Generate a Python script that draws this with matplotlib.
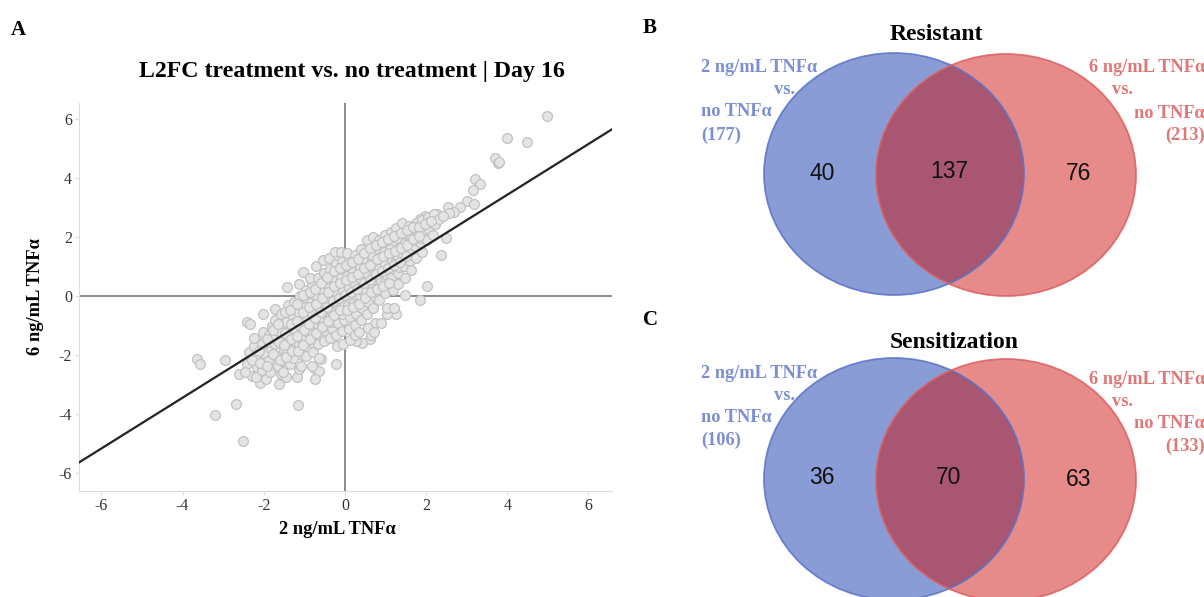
import matplotlib.pyplot as plt
from matplotlib.patches import Ellipse

plt.rcParams['font.family'] = ['Liberation Serif', 'DejaVu Serif']
plt.rcParams['axes.unicode_minus'] = False

# scatter: log2 fold change, 2 ng/mL (x) vs 6 ng/mL (y)
outliers = [
    (4.98, 6.12), (3.99, 5.37), (4.48, 5.22), (3.69, 4.67), (3.76, 4.52), (3.80, 4.55),
    (3.21, 3.98), (3.32, 3.79), (3.15, 3.59), (3.02, 3.23), (3.17, 3.11), (2.83, 3.03),
    (2.55, 3.03), (2.68, 2.86), (2.56, 2.82), (2.27, 2.78), (1.98, 2.71), (1.86, 2.63),
    (1.70, 2.37), (2.23, 2.46), (2.36, 1.41), (2.48, 1.98), (2.02, 0.34), (1.84, -0.11),
    (1.47, 0.03), (1.27, -0.61), (1.03, -0.61), (0.75, -0.89), (0.62, -1.46), (0.42, -1.58),
    (0.28, -1.51), (0.65, -1.32),
    (-3.64, -2.14), (-3.57, -2.29), (-2.95, -2.16), (-2.42, -0.87), (-2.61, -2.62),
    (-2.30, -2.71), (-2.10, -2.93), (-1.63, -2.99), (-1.57, -2.62), (-1.44, -2.73),
    (-1.19, -2.75), (-1.14, -2.47), (-0.75, -2.42), (-0.65, -2.52), (-0.73, -2.79),
    (-0.21, -2.31), (-0.60, -2.11), (-2.69, -3.66), (-3.20, -4.03), (-1.16, -3.69),
    (-2.51, -4.90), (-2.17, -1.55), (-2.02, -0.61),
]
core = [
    (-2.42, -2.31), (-2.36, -1.88), (-2.45, -2.58), (-2.33, -0.93),
    (-2.21, -2.02), (-2.17, -2.41), (-2.25, -1.69), (-2.19, -2.72), (-2.23, -1.42),
    (-2.03, -1.61), (-1.97, -2.12), (-2.05, -2.49), (-1.99, -1.91), (-2.01, -1.22), (-1.95, -2.81),
    (-1.86, -1.31), (-1.82, -1.79), (-1.89, -2.21), (-1.84, -2.58), (-1.80, -1.02), (-1.88, -1.56),
    (-1.71, -0.79), (-1.67, -1.21), (-1.73, -1.62), (-1.69, -2.01), (-1.66, -2.38), (-1.74, -1.41),
    (-1.72, -0.42), (-1.57, -0.61), (-1.53, -1.02), (-1.58, -1.39), (-1.51, -1.81), (-1.56, -2.19),
    (-1.52, -2.57), (-1.59, -1.18), (-1.41, -0.31), (-1.37, -0.72), (-1.43, -1.09), (-1.39, -1.52),
    (-1.42, -1.91), (-1.36, -2.28), (-1.44, -0.88), (-1.38, -1.31), (-1.42, 0.32),
    (-1.26, -0.19), (-1.22, -0.52), (-1.28, -0.91), (-1.24, -1.29), (-1.21, -1.71), (-1.27, -2.09),
    (-1.23, -1.12), (-1.29, -0.68), (-1.25, -1.52),
    (-1.11, 0.02), (-1.07, -0.41), (-1.13, -0.79), (-1.09, -1.22), (-1.12, -1.61), (-1.06, -1.98),
    (-1.14, -0.58), (-1.08, -1.01), (-1.10, -1.41), (-1.12, 0.41), (-1.09, -2.38),
    (-0.96, 0.21), (-0.92, -0.19), (-0.98, -0.62), (-0.94, -0.99), (-0.97, -1.41), (-0.91, -1.79),
    (-0.99, -0.38), (-0.93, -0.81), (-0.95, -1.19), (-1.02, 0.82), (-0.96, -2.02),
    (-0.81, 0.41), (-0.78, 0.02), (-0.83, -0.41), (-0.79, -0.79), (-0.82, -1.21), (-0.77, -1.62),
    (-0.84, -0.22), (-0.80, -0.58), (-0.76, -1.01), (-0.85, 0.62), (-0.79, -1.88), (-0.82, -2.37),
    (-0.66, 0.61), (-0.63, 0.19), (-0.68, -0.21), (-0.64, -0.62), (-0.67, -0.98), (-0.62, -1.41),
    (-0.69, 0.02), (-0.65, -0.39), (-0.61, -0.81), (-0.70, 1.01), (-0.66, -1.62), (-0.63, -2.08),
    (-0.51, 0.79), (-0.48, 0.41), (-0.53, 0.02), (-0.49, -0.41), (-0.52, -0.79), (-0.47, -1.19),
    (-0.54, 0.21), (-0.50, -0.19), (-0.46, -0.61), (-0.55, 1.22), (-0.51, -1.52), (-0.49, -1.01),
    (-0.36, 0.91), (-0.33, 0.52), (-0.38, 0.09), (-0.34, -0.31), (-0.37, -0.69), (-0.32, -1.09),
    (-0.39, 0.29), (-0.35, -0.12), (-0.31, -0.52), (-0.40, 1.31), (-0.36, -1.41), (-0.34, -0.88),
    (-0.21, 1.09), (-0.18, 0.71), (-0.23, 0.29), (-0.19, -0.11), (-0.22, -0.49), (-0.17, -0.91),
    (-0.24, 0.52), (-0.20, 0.11), (-0.16, -0.29), (-0.25, 1.49), (-0.21, -1.31), (-0.19, -1.69),
    (-0.06, 1.21), (-0.03, 0.79), (-0.08, 0.41), (-0.04, 0.02), (-0.07, -0.41), (-0.02, -0.79),
    (-0.09, 0.61), (-0.05, 0.19), (-0.01, -0.21), (-0.10, 1.51), (-0.06, -1.19), (-0.04, -1.61),
    (-0.08, -0.59),
    (0.09, 1.31), (0.12, 0.91), (0.07, 0.49), (0.11, 0.11), (0.08, -0.31), (0.13, -0.69),
    (0.06, 0.69), (0.10, 0.29), (0.14, -0.09), (0.05, 1.46), (0.09, -1.11), (0.12, -1.49),
    (0.24, 1.41), (0.27, 0.99), (0.22, 0.61), (0.26, 0.19), (0.23, -0.21), (0.28, -0.59),
    (0.21, 0.81), (0.25, 0.41), (0.29, 0.02), (0.24, -0.98), (0.26, -1.31),
    (0.39, 1.61), (0.42, 1.19), (0.37, 0.81), (0.41, 0.39), (0.38, 0.02), (0.43, -0.39),
    (0.36, 1.01), (0.40, 0.59), (0.44, 0.19), (0.39, -0.79), (0.35, -1.21),
    (0.54, 1.89), (0.57, 1.41), (0.52, 0.99), (0.56, 0.61), (0.53, 0.19), (0.58, -0.21),
    (0.51, 1.21), (0.55, 0.79), (0.59, 0.41), (0.54, -0.61), (0.57, -1.09),
    (0.69, 2.01), (0.72, 1.59), (0.67, 1.21), (0.71, 0.79), (0.68, 0.41), (0.73, 0.02),
    (0.66, 1.41), (0.70, 0.99), (0.74, 0.59), (0.69, -0.39), (0.72, -1.21),
    (0.84, 1.91), (0.87, 1.49), (0.82, 1.11), (0.86, 0.69), (0.83, 0.29), (0.81, 1.29),
    (0.85, 0.91), (0.89, 0.49), (0.84, -0.11), (0.88, -0.89),
    (0.99, 2.09), (1.02, 1.71), (0.97, 1.29), (1.01, 0.91), (0.98, 0.49), (0.96, 1.51),
    (1.00, 1.11), (1.04, 0.71), (0.99, 0.11), (1.03, -0.41),
    (1.14, 2.19), (1.17, 1.79), (1.12, 1.41), (1.16, 1.01), (1.13, 0.61), (1.11, 1.59),
    (1.15, 1.21), (1.19, 0.21), (1.21, -0.39),
    (1.29, 1.99), (1.32, 1.61), (1.27, 1.21), (1.31, 0.79), (1.28, 1.41), (1.33, 0.99),
    (1.30, 0.41), (1.26, 2.31),
    (1.44, 2.21), (1.47, 1.79), (1.42, 1.41), (1.46, 1.01), (1.43, 1.61), (1.48, 0.61),
    (1.41, 2.49),
    (1.59, 2.39), (1.62, 1.99), (1.57, 1.61), (1.61, 1.19), (1.58, 1.81), (1.63, 0.89),
    (1.74, 2.49), (1.77, 2.09), (1.72, 1.69), (1.76, 1.29), (1.73, 1.89),
    (1.89, 2.59), (1.92, 2.19), (1.87, 1.79), (1.91, 1.49), (1.88, 1.99),
    (2.04, 2.69), (2.07, 2.29), (2.02, 1.89), (2.06, 2.51),
    (2.19, 2.79), (2.22, 2.44), (2.17, 2.09), (2.33, 2.61), (2.41, 2.71),
]
core_fill = [
    (-2.30, -2.15), (-2.12, -1.85), (-2.08, -2.25), (-1.93, -1.45), (-1.91, -2.38),
    (-1.78, -1.95), (-1.76, -1.15), (-1.62, -1.55), (-1.64, -0.95), (-1.61, -2.15),
    (-1.48, -1.25), (-1.47, -0.55), (-1.49, -1.65), (-1.46, -2.05), (-1.33, -0.95),
    (-1.32, -1.45), (-1.34, -0.45), (-1.31, -1.85), (-1.18, -0.85), (-1.17, -0.25),
    (-1.19, -1.35), (-1.16, -1.85), (-1.03, -0.55), (-1.01, -1.15), (-1.04, 0.05),
    (-1.02, -1.65), (-0.88, -0.35), (-0.87, 0.15), (-0.89, -0.95), (-0.86, -1.45),
    (-0.73, 0.25), (-0.72, -0.25), (-0.74, -0.75), (-0.71, -1.25), (-0.58, 0.45),
    (-0.57, -0.05), (-0.59, -0.55), (-0.56, -1.05), (-0.43, 0.65), (-0.42, 0.15),
    (-0.44, -0.35), (-0.41, -0.85), (-0.28, 0.85), (-0.27, 0.35), (-0.29, -0.15),
    (-0.26, -0.65), (-0.13, 0.95), (-0.12, 0.45), (-0.14, -0.05), (-0.11, -0.45),
    (0.02, 1.05), (0.03, 0.55), (0.01, 0.05), (0.04, -0.45), (0.17, 1.15), (0.18, 0.65),
    (0.16, 0.15), (0.19, -0.35), (0.32, 1.25), (0.33, 0.75), (0.31, 0.25), (0.34, -0.25),
    (0.47, 1.45), (0.48, 0.95), (0.46, 0.45), (0.49, -0.05), (0.62, 1.65), (0.63, 1.05),
    (0.61, 0.55), (0.64, 0.15), (0.77, 1.75), (0.78, 1.25), (0.76, 0.75), (0.79, 0.25),
    (0.92, 1.85), (0.93, 1.35), (0.91, 0.85), (0.94, 0.35), (1.07, 1.95), (1.08, 1.45),
    (1.06, 0.95), (1.09, 0.45), (1.22, 2.05), (1.23, 1.55), (1.21, 1.05), (1.37, 2.15),
    (1.38, 1.65), (1.36, 1.15), (1.52, 2.25), (1.53, 1.75), (1.51, 1.35), (1.67, 2.35),
    (1.68, 1.95), (1.82, 2.35), (1.83, 2.05), (1.97, 2.45), (2.12, 2.55),
]
pts = outliers + core + core_fill
x_vals = [p[0] for p in pts]
y_vals = [p[1] for p in pts]
fit_slope = 0.86

# venn counts
resistant = {"only_2": 40, "both": 137, "only_6": 76, "total_2": 177, "total_6": 213}
sensitization = {"only_2": 36, "both": 70, "only_6": 63, "total_2": 106, "total_6": 133}

W, H = 1204, 597
fig = plt.figure(figsize=(W / 100, H / 100), dpi=100)

# ---------- panel A ----------
ax = fig.add_axes([79 / W, 1 - 491 / H, (612 - 79) / W, (491 - 103) / H])
ax.scatter(x_vals, y_vals, s=50, facecolor="#e4e4e4", edgecolor="#c2c2c2",
           linewidth=0.9, zorder=3)
ax.axhline(0, color="#777777", lw=1.2, zorder=2)
ax.axvline(0, color="#777777", lw=1.2, zorder=2)
ax.axline((0, 0), slope=fit_slope, color="#222222", lw=1.6, zorder=4)
ax.set_xlim(-6.55, 6.58)
ax.set_ylim(-6.6, 6.55)
ax.set_xticks([-6, -4, -2, 0, 2, 4, 6])
ax.set_yticks([-6, -4, -2, 0, 2, 4, 6])
for s in ["top", "right"]:
    ax.spines[s].set_visible(False)
for s in ["left", "bottom"]:
    ax.spines[s].set_color("#dddddd")
ax.tick_params(colors="#dddddd", labelcolor="#333333", length=3, labelsize=11.5, pad=2)

fig.text(352 / W, 1 - 72 / H, "L2FC treatment vs. no treatment | Day 16",
         ha="center", va="center", fontsize=17.2, fontweight="bold")
fig.text(337 / W, 1 - 530 / H, "2 ng/mL TNFα", ha="center", va="center",
         fontsize=13.3, fontweight="bold")
fig.text(35 / W, 1 - 297 / H, "6 ng/mL TNFα", ha="center", va="center",
         fontsize=13.3, fontweight="bold", rotation=90)

# ---------- panels B, C ----------
av = fig.add_axes([0, 0, 1, 1], zorder=5)
av.set_xlim(0, W)
av.set_ylim(H, 0)
av.axis("off")

BLUE_FILL, BLUE_EDGE = "#8a9cd6", "#5a73c6"
RED_FILL, RED_EDGE = "#e68a8a", "#dc6060"
MID_FILL = "#a85672"
BLUE_TXT, RED_TXT = "#7c8fd4", "#e07878"


def venn(counts, title, cy, title_y):
    bx, rx = 894, 1006
    e_b = Ellipse((bx, cy), 260, 242, facecolor=BLUE_FILL, edgecolor="none")
    e_r = Ellipse((rx, cy + 1), 260, 242, facecolor=RED_FILL, edgecolor="none")
    av.add_patch(e_b)
    av.add_patch(e_r)
    clip = Ellipse((bx, cy), 260, 242, transform=av.transData)
    e_m = Ellipse((rx, cy + 1), 260, 242, facecolor=MID_FILL, edgecolor="none")
    av.add_patch(e_m)
    e_m.set_clip_path(clip)
    av.add_patch(Ellipse((bx, cy), 260, 242, facecolor="none", edgecolor=BLUE_EDGE, lw=1.3, alpha=0.85))
    av.add_patch(Ellipse((rx, cy + 1), 260, 242, facecolor="none", edgecolor=RED_EDGE, lw=1.3, alpha=0.85))

    num_kw = dict(ha="center", va="center", fontsize=16.5, family="Liberation Sans", color="#111111")
    av.text(822, cy - 1, str(counts["only_2"]), **num_kw)
    av.text(949, cy - 2, str(counts["both"]), **num_kw)
    av.text(1079, cy, str(counts["only_6"]), **num_kw)

    av.text(890, title_y, title, ha="left", va="center", fontsize=17, fontweight="bold")

    lkw = dict(fontsize=13.2, fontweight="bold", va="center")
    top = cy - 106
    av.text(701, top, "2 ng/mL TNFα", ha="left", color=BLUE_TXT, **lkw)
    av.text(784, top + 22, "vs.", ha="center", color=BLUE_TXT, **lkw)
    av.text(701, top + 44, "no TNFα", ha="left", color=BLUE_TXT, **lkw)
    av.text(701, top + 67, "(%d)" % counts["total_2"], ha="left", color=BLUE_TXT, **lkw)
    rtop = top + (0 if cy < 300 else 6)
    av.text(1205, rtop, "6 ng/mL TNFα", ha="right", color=RED_TXT, **lkw)
    av.text(1123, rtop + 22, "vs.", ha="center", color=RED_TXT, **lkw)
    av.text(1205, rtop + 45, "no TNFα", ha="right", color=RED_TXT, **lkw)
    av.text(1205, rtop + 67, "(%d)" % counts["total_6"], ha="right", color=RED_TXT, **lkw)


venn(resistant, "Resistant", 174, 35)
venn(sensitization, "Sensitization", 479, 342)

letter_kw = dict(fontsize=15, fontweight="bold", ha="center", va="center")
av.text(18, 30, "A", **letter_kw)
av.text(650, 28, "B", **letter_kw)
av.text(650, 320, "C", **letter_kw)

fig.savefig("out.png", dpi=100)
